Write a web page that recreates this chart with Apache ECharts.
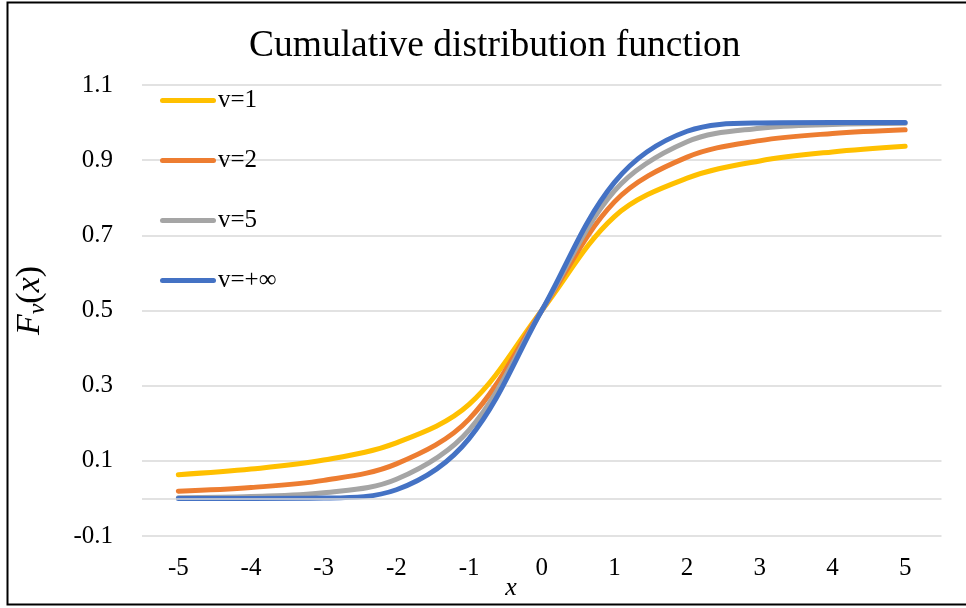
<!DOCTYPE html>
<html>
<head>
<meta charset="utf-8">
<script src="https://cdn.jsdelivr.net/npm/echarts@6/dist/echarts.min.js"></script>
<style>
html,body{margin:0;padding:0;background:#fff;}
#chart{width:966px;height:608px;}
</style>
</head>
<body>
<div id="chart"></div>
<script>
// ---- data ----
const xCategories = ['-5', '-4', '-3', '-2', '-1', '0', '1', '2', '3', '4', '5'];
const seriesNames = ['v=1', 'v=2', 'v=5', 'v=+∞'];
const v1   = [0.063, 0.078, 0.102, 0.148, 0.250, 0.500, 0.750, 0.852, 0.898, 0.922, 0.937];
const v2   = [0.019, 0.029, 0.048, 0.092, 0.211, 0.500, 0.789, 0.908, 0.952, 0.971, 0.981];
const v5   = [0.002, 0.005, 0.015, 0.051, 0.182, 0.500, 0.818, 0.949, 0.985, 0.995, 0.998];
const vInf = [0.000, 0.000, 0.001, 0.023, 0.159, 0.500, 0.841, 0.977, 0.999, 1.000, 1.000];
const yMin = -0.1, yMax = 1.1, yStep = 0.1;
const titleText = 'Cumulative distribution function';

const colors = ['#FFC000', '#ED7D31', '#A5A5A5', '#4472C4'];
const serif = '"Liberation Serif", "Times New Roman", serif';
const gridColor = '#d9d9d9';

const chart = echarts.init(document.getElementById('chart'), null, {renderer: 'canvas'});

const allData = [v1, v2, v5, vInf];
const series = allData.map((d, i) => {
  const s = {
    name: seriesNames[i],
    type: 'line',
    data: d,
    smooth: 0.35,
    symbol: 'none',
    lineStyle: {width: 5, color: colors[i], cap: 'round', join: 'round'},
    itemStyle: {color: colors[i]},
    emphasis: {disabled: true}
  };
  if (i === 0) {
    s.markLine = {
      silent: true,
      symbol: ['none', 'none'],
      label: {show: false},
      lineStyle: {color: gridColor, type: 'solid', width: 1.5},
      data: [{yAxis: 0}],
      animation: false
    };
  }
  return s;
});

const legendIcon = 'path://M2.5,0 L53.5,0 A2.5,2.5 0 0 1 53.5,5 L2.5,5 A2.5,2.5 0 0 1 2.5,0 Z';

chart.setOption({
  animation: false,
  backgroundColor: '#fff',
  color: colors,
  title: {
    text: titleText,
    left: 244,
    top: 22,
    textStyle: {fontFamily: serif, fontSize: 37.5, fontWeight: 'normal', color: '#000'}
  },
  legend: {
    orient: 'vertical',
    left: 160,
    top: 88,
    itemWidth: 56,
    itemHeight: 5,
    itemGap: 35,
    padding: 0,
    icon: legendIcon,
    data: seriesNames,
    textStyle: {fontFamily: serif, fontSize: 25, color: '#000', lineHeight: 24, padding: [0,0,0,-3]}
  },
  grid: {left: 142, right: 24.5, top: 85, bottom: 72, containLabel: false},
  xAxis: {
    type: 'category',
    data: xCategories,
    boundaryGap: true,
    axisLine: {show: false},
    axisTick: {show: false},
    splitLine: {show: false},
    axisLabel: {fontFamily: serif, fontSize: 25, color: '#000', margin: 20}
  },
  yAxis: {
    type: 'value',
    min: yMin,
    max: yMax,
    interval: yStep,
    axisLine: {show: false},
    axisTick: {show: false},
    axisLabel: {
      fontFamily: serif, fontSize: 25, color: '#000', margin: 29,
      formatter: v => (Math.abs(Math.round(v * 10)) % 2 === 1 ? v.toFixed(1) : '')
    },
    splitLine: {show: true, lineStyle: {color: [gridColor, 'rgba(0,0,0,0)'], width: 1.5}},
    name: '{F|F}{v|v}{p|(}{x|x}{p|)}',
    nameLocation: 'middle',
    nameRotate: 90,
    nameGap: 92,
    nameTextStyle: {
      padding: [0, 0, 0, 20],
      rich: {
        F: {fontFamily: serif, fontStyle: 'italic', fontSize: 34, color: '#000'},
        v: {fontFamily: serif, fontStyle: 'italic', fontSize: 24, color: '#000', padding: [16, 0, 0, 0]},
        p: {fontFamily: serif, fontSize: 34, color: '#000'},
        x: {fontFamily: serif, fontStyle: 'italic', fontSize: 34, color: '#000'}
      }
    }
  },
  graphic: [
    {
      type: 'rect',
      silent: true,
      shape: {x: 7.5, y: 2.5, width: 980, height: 602},
      style: {fill: 'none', stroke: '#000', lineWidth: 2}
    },
    {
      type: 'text',
      silent: true,
      x: 511, y: 588,
      style: {text: 'x', fontFamily: serif, fontStyle: 'italic', fontSize: 26, fill: '#000', align: 'center', verticalAlign: 'middle'}
    }
  ],
  series: series
});
</script>
</body>
</html>
